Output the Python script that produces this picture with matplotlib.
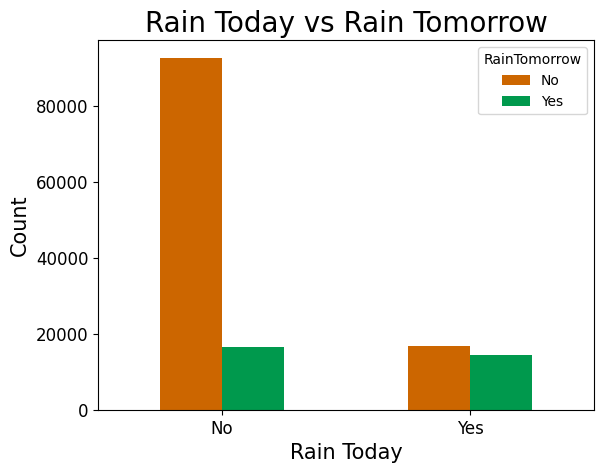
import matplotlib
matplotlib.use("Agg")
import matplotlib.pyplot as plt
import numpy as np

rain_today = ["No", "Yes"]
tomorrow_no = [92728, 16858]
tomorrow_yes = [16604, 14597]

fig = plt.figure(figsize=(6.03, 4.73), dpi=100)
ax = fig.add_axes([98 / 603, 63 / 473, 496 / 603, 369.5 / 473])

x = np.arange(len(rain_today))
w = 0.25
ax.bar(x - w / 2, tomorrow_no, w, color="#CC6600", label="No")
ax.bar(x + w / 2, tomorrow_yes, w, color="#00994D", label="Yes")

ax.set_xlim(-0.5, 1.5)
ax.set_xticks(x)
ax.set_xticklabels(rain_today, rotation=0)
ax.tick_params(labelsize=12)
ax.set_title("Rain Today vs Rain Tomorrow", fontsize=20)
ax.set_xlabel("Rain Today", fontsize=15)
ax.set_ylabel("Count", fontsize=15)
ax.legend(title="RainTomorrow", loc="upper right")

fig.savefig("out.png")
